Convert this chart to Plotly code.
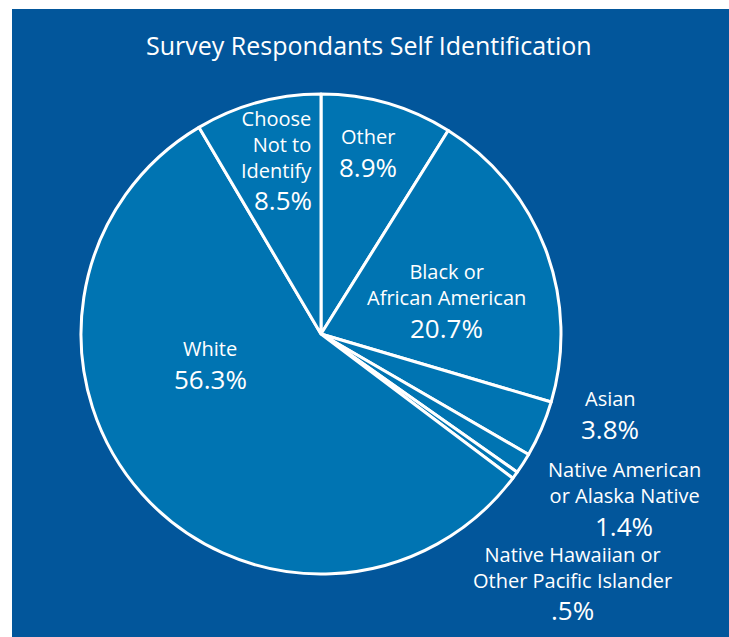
import plotly.graph_objects as go

# ---- data ----
categories = ["Other", "Black or African American", "Asian",
              "Native American or Alaska Native",
              "Native Hawaiian or Other Pacific Islander",
              "White", "Choose Not to Identify"]
values = [8.9, 20.7, 3.8, 1.4, 0.5, 56.3, 8.5]
label_lines = ["Other", "Black or<br>African American", "Asian",
               "Native American<br>or Alaska Native",
               "Native Hawaiian or<br>Other Pacific Islander",
               "White", "Choose<br>Not to<br>Identify"]
title_text = "Survey Respondants Self Identification"

# ---- style ----
W, H = 729, 637
ML, MT = 12, 9
BG = "#02569B"
PIE = "#0074B2"
FONT = "Open Sans"
NAME_SIZE = 20
PCT_SIZE = 26
TITLE_SIZE = 25


def px(x, y):
    return (x - ML) / (W - ML), 1 - (y - MT) / (H - MT)


# label layout: (centre x, name block centre y, pct centre y, anchor)
label_pos = [
    (368, 136, 167, "center"),
    (446, 284, 328, "center"),
    (610, 398, 429, "center"),
    (624, 482, 526, "center"),
    (572, 567, 610, "center"),
    (210, 348, 379, "center"),
    (313, 144, 200, "right"),
]

fig = go.Figure(go.Pie(
    labels=categories,
    values=values,
    sort=False,
    direction="clockwise",
    rotation=0,
    textinfo="none",
    hoverinfo="label+percent",
    marker=dict(colors=[PIE] * len(values), line=dict(color="white", width=3)),
    domain=dict(x=[px(81, 0)[0], px(561, 0)[0]], y=[px(0, 574)[1], px(0, 94)[1]]),
    showlegend=False,
))

annotations = []
for name, val, (x, yn, yp, anch) in zip(label_lines, values, label_pos):
    pct = f"{val:.1f}%".lstrip("0")
    xa, ya = px(x, yn)
    annotations.append(dict(x=xa, y=ya, xref="paper", yref="paper", text=name,
                            showarrow=False, xanchor=anch, yanchor="middle", align=anch,
                            borderpad=0,
                            font=dict(family=FONT, size=NAME_SIZE, color="white")))
    xa, ya = px(x, yp)
    annotations.append(dict(x=xa, y=ya, xref="paper", yref="paper", text=pct,
                            showarrow=False, xanchor=anch, yanchor="middle", align=anch,
                            borderpad=0,
                            font=dict(family=FONT, size=PCT_SIZE, color="white")))

tx, ty = px(369, 45)
annotations.append(dict(x=tx, y=ty, xref="paper", yref="paper", text=title_text,
                        showarrow=False, xanchor="center", yanchor="middle",
                        font=dict(family=FONT, size=TITLE_SIZE, color="white")))

fig.update_layout(
    width=W, height=H,
    margin=dict(l=ML, r=0, t=MT, b=0),
    paper_bgcolor="white",
    annotations=annotations,
    shapes=[dict(type="rect", xref="paper", yref="paper", x0=0, x1=1, y0=0, y1=1,
                 fillcolor=BG, line=dict(width=0), layer="below")],
)

fig.write_html("out.html",
               config={"displayModeBar": False},
               post_script="document.body.style.margin='0';document.body.style.overflow='hidden';")
